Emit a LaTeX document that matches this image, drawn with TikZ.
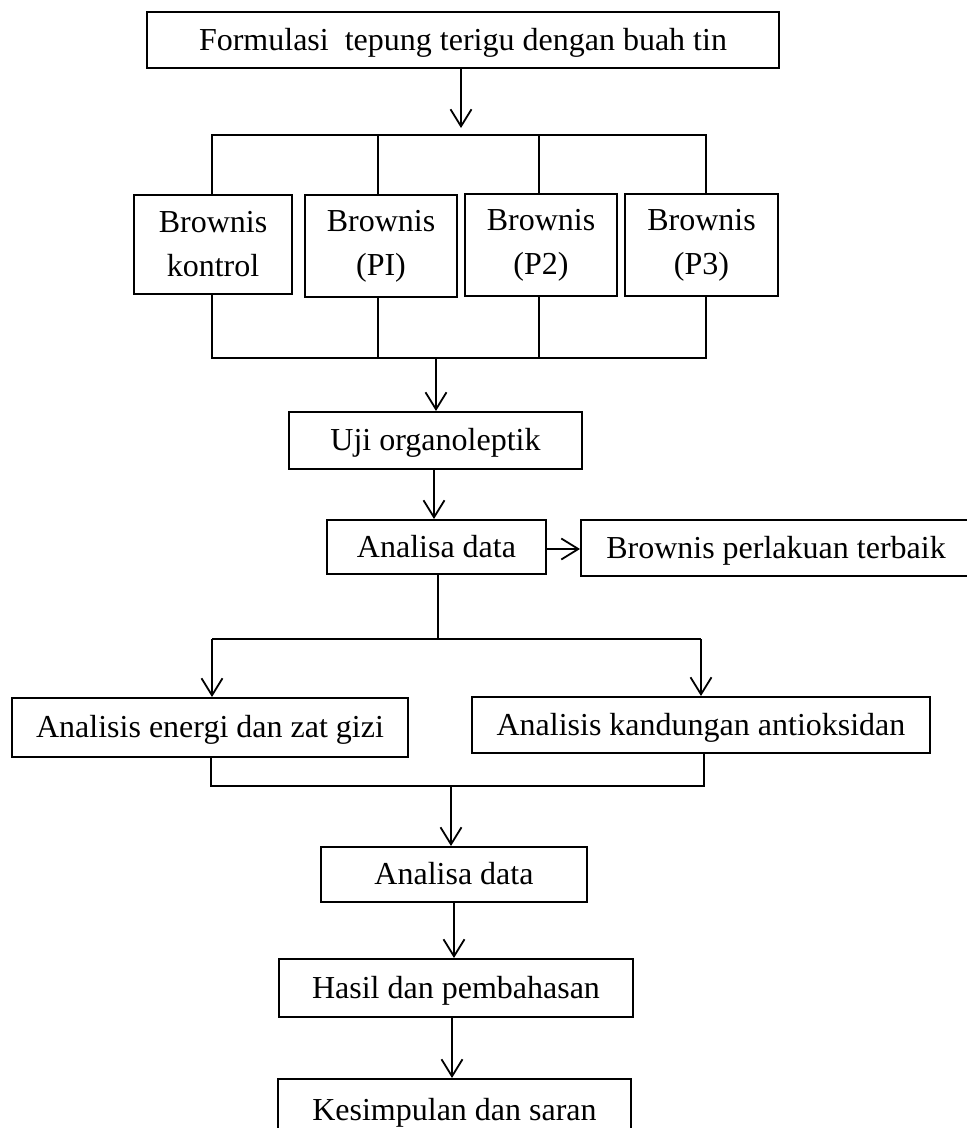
\documentclass[tikz,border=0pt]{standalone}
\usepackage{fontspec}
\setmainfont{Liberation Serif}
\usepackage{xcolor}
\usetikzlibrary{arrows.meta}

\begin{document}
\begin{tikzpicture}[
    x=1pt, y=-1pt,
    box/.style={rectangle, draw=black, line width=2pt, align=center, inner sep=0pt,
                font=\fontsize{32}{44}\selectfont},
    onebox/.style={box, text height=20pt, text depth=0pt},
    link/.style={draw=black, line width=1.8pt},
    arr/.style={link, -{Straight Barb[length=17pt, width=21pt]}}
]
    \useasboundingbox (0,0) rectangle (967,1128);
    \node[onebox, minimum width=632pt, minimum height=56pt] (form) at (463,40) {Formulasi\ \ tepung terigu dengan buah tin};
    \node[box, minimum width=158pt, minimum height=99pt] (kon) at (213,244.5) {Brownis\\kontrol};
    \node[box, minimum width=152pt, minimum height=102pt] (p1) at (381,246) {Brownis\\(PI)};
    \node[box, minimum width=152pt, minimum height=102pt] (p2) at (541,245) {Brownis\\(P2)};
    \node[box, minimum width=153pt, minimum height=102pt] (p3) at (701.5,245) {Brownis\\(P3)};
    \node[onebox, minimum width=293pt, minimum height=57pt] (uji) at (435.5,440.5) {Uji organoleptik};
    \node[onebox, minimum width=219pt, minimum height=54pt] (ana1) at (436.5,547) {Analisa data};
    \node[onebox, minimum width=390pt, minimum height=56pt] (best) at (776,548) {Brownis perlakuan terbaik};
    \node[onebox, minimum width=396pt, minimum height=59pt] (gizi) at (210,727.5) {Analisis energi dan zat gizi};
    \node[onebox, minimum width=458pt, minimum height=56pt] (oks) at (701,725) {Analisis kandungan antioksidan};
    \node[onebox, minimum width=266pt, minimum height=55pt] (ana2) at (454,874.5) {Analisa data};
    \node[onebox, minimum width=354pt, minimum height=58pt] (hasil) at (456,988) {Hasil dan pembahasan};
    \node[onebox, minimum width=353pt, minimum height=62pt] (simp) at (454.5,1110) {Kesimpulan dan saran};

    \coordinate (topbus) at (461,135);
    \coordinate (botbus) at (436,358);
    \coordinate (split) at (438,639);
    \coordinate (join) at (451,786);

    \draw[arr] (form.south -| topbus) -- ([yshift=7pt]topbus);
    \draw[link] ([xshift=-1pt]kon.north) -- ([xshift=-1pt]kon.north |- topbus) -- ([xshift=4.5pt]p3.north |- topbus) -- ([xshift=4.5pt]p3.north);
    \draw[link] ([xshift=-3pt]p1.north) -- ([xshift=-3pt]p1.north |- topbus);
    \draw[link] ([xshift=-2pt]p2.north) -- ([xshift=-2pt]p2.north |- topbus);
    \draw[link] ([xshift=-1pt]kon.south) -- ([xshift=-1pt]kon.south |- botbus) -- ([xshift=4.5pt]p3.south |- botbus) -- ([xshift=4.5pt]p3.south);
    \draw[link] ([xshift=-3pt]p1.south) -- ([xshift=-3pt]p1.south |- botbus);
    \draw[link] ([xshift=-2pt]p2.south) -- ([xshift=-2pt]p2.south |- botbus);
    \draw[arr] (botbus) -- (botbus |- uji.north);
    \draw[arr] ([xshift=-1.5pt]uji.south) -- ([xshift=-1.5pt]uji.south |- ana1.north);
    \draw[arr] ([yshift=-2pt]ana1.east) -- ([yshift=-2pt]ana1.east -| best.west);
    \draw[link] (ana1.south -| split) -- (split);
    \draw[link] ([xshift=2pt]gizi.north |- split) -- (oks.north |- split);
    \draw[arr] ([xshift=2pt]gizi.north |- split) -- ([xshift=2pt]gizi.north);
    \draw[arr] (oks.north |- split) -- (oks);
    \draw[link] ([xshift=1pt]gizi.south) |- (join) -| ([xshift=3pt]oks.south);
    \draw[arr] (join) -- (join |- ana2.north);
    \draw[arr] (ana2.south) -- (ana2.south |- hasil.north);
    \draw[arr] ([xshift=-4pt]hasil.south) -- ([xshift=-4pt]hasil.south |- simp.north);
\end{tikzpicture}
\end{document}
